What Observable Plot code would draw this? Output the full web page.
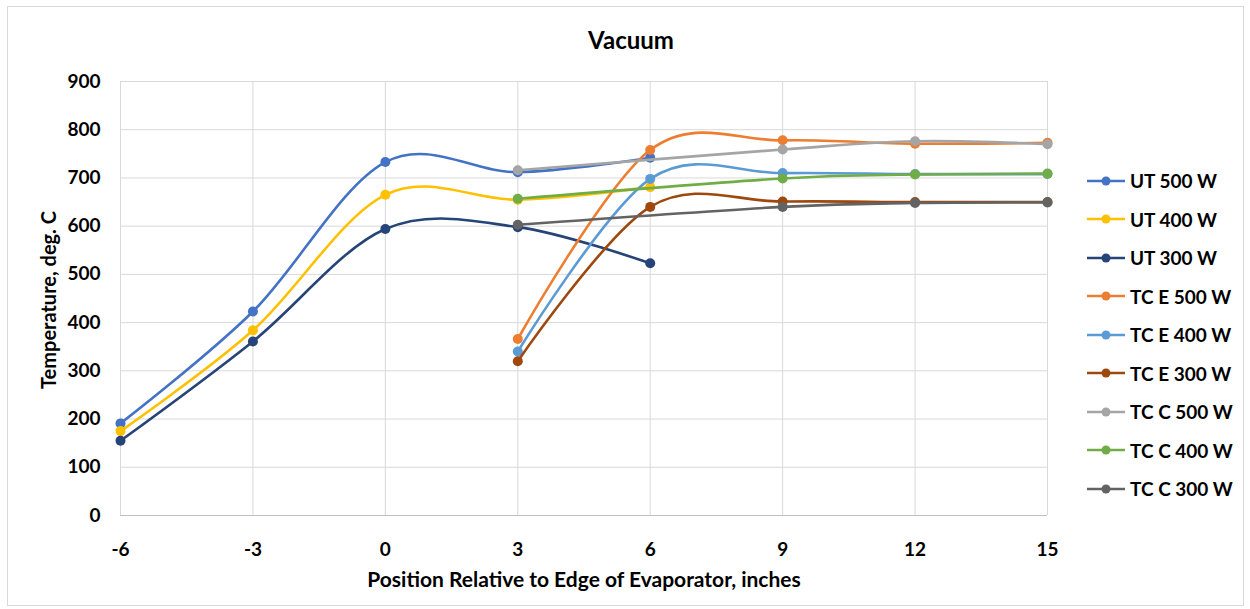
<!DOCTYPE html>
<html>
<head>
<meta charset="utf-8">
<script src="https://cdn.jsdelivr.net/npm/d3@7"></script>
<script src="https://cdn.jsdelivr.net/npm/@observablehq/plot@0.6"></script>
<style>
  body { margin: 0; background: #fff; }
  #chart {
    position: relative; width: 1250px; height: 609px; overflow: hidden;
    font-family: Lato, "Open Sans", sans-serif; font-weight: 700; color: #000;
  }
  #frame { position: absolute; left: 7px; top: 6px; width: 1237px; height: 600px; border: 1px solid #d9d9d9; box-sizing: border-box; }
  #plot { position: absolute; left: 0; top: 0; }
  .lbl { position: absolute; white-space: nowrap; transform: translate(-50%, -50%); line-height: 1; }
  #title { left: 631px; top: 40px; font-size: 24px; }
  #xtitle { left: 584px; top: 578px; font-size: 21px; }
  #ytitle { left: 48px; top: 300px; font-size: 20px; transform: translate(-50%, -50%) rotate(-90deg); }
  .item { position: absolute; left: 1086px; height: 20px; display: flex; align-items: center; font-size: 19px; white-space: nowrap; transform: translateY(-50%); }
  .item svg { margin-right: 4px; }
</style>
</head>
<body>
<div id="chart">
  <div id="frame"></div>
  <div id="plot"></div>
  <div class="lbl" id="title">Vacuum</div>
  <div class="lbl" id="xtitle">Position Relative to Edge of Evaporator, inches</div>
  <div class="lbl" id="ytitle">Temperature, deg. C</div>
  <div id="legend"></div>
</div>
<script>
// Positions (inches from the evaporator edge) for each sensor group
const utX  = [-6, -3, 0, 3, 6];
const tceX = [3, 6, 9, 12, 15];
const tccX = [3, 9, 12, 15];

// Temperatures, deg. C
const ut500  = [191, 423, 733, 712, 742];
const ut400  = [175, 384, 665, 655, 681];
const ut300  = [155, 361, 594, 598, 523];
const tce500 = [366, 758, 778, 771, 773];
const tce400 = [340, 698, 710, 708, 708];
const tce300 = [320, 640, 651, 650, 650];
const tcc500 = [716, 759, 776, 770];
const tcc400 = [657, 699, 707, 709];
const tcc300 = [603, 640, 648, 649];

const seriesNames  = ["UT 500 W", "UT 400 W", "UT 300 W", "TC E 500 W", "TC E 400 W", "TC E 300 W", "TC C 500 W", "TC C 400 W", "TC C 300 W"];
const seriesColors = ["#4472C4", "#FFC000", "#264478", "#ED7D31", "#5B9BD5", "#9E480E", "#A5A5A5", "#70AD47", "#636363"];

const xTicks = [-6, -3, 0, 3, 6, 9, 12, 15];
const yTicks = [0, 100, 200, 300, 400, 500, 600, 700, 800, 900];

const seriesX = [utX, utX, utX, tceX, tceX, tceX, tccX, tccX, tccX];
const seriesY = [ut500, ut400, ut300, tce500, tce400, tce300, tcc500, tcc400, tcc300];

const series = seriesNames.map((name, i) => ({
  name,
  color: seriesColors[i],
  rows: seriesX[i].map((x, j) => ({ x, y: seriesY[i][j] }))
}));

const marks = [
  Plot.gridX(xTicks, { stroke: "#d9d9d9", strokeOpacity: 1, strokeWidth: 1 }),
  Plot.gridY(yTicks.slice(1), { stroke: "#d9d9d9", strokeOpacity: 1, strokeWidth: 1 }),
  Plot.ruleY([0], { stroke: "#bfbfbf", strokeWidth: 1.2 }),
  Plot.axisX(xTicks, { tickSize: 0, tickPadding: 27, label: null, fontSize: 19, fontWeight: 700, tickFormat: d => String(d) }),
  Plot.axisY(yTicks, { tickSize: 0, tickPadding: 20, label: null, fontSize: 19, fontWeight: 700, tickFormat: d => String(d) })
];
for (const s of series) {
  marks.push(Plot.line(s.rows, { x: "x", y: "y", stroke: s.color, strokeWidth: 2.6, curve: "cardinal" }));
  marks.push(Plot.dot(s.rows, { x: "x", y: "y", fill: s.color, r: 5, stroke: "none" }));
}

const chart = Plot.plot({
  width: 1250,
  height: 609,
  marginLeft: 120,
  marginRight: 203,
  marginTop: 81,
  marginBottom: 94,
  x: { domain: [-6, 15] },
  y: { domain: [0, 900] },
  style: { fontFamily: "Lato, 'Open Sans', sans-serif", color: "#000", background: "transparent", overflow: "visible" },
  marks
});
document.getElementById("plot").appendChild(chart);

// Legend: one row per series, line with a marker and the series name
const legend = document.getElementById("legend");
series.forEach((s, i) => {
  const item = document.createElement("div");
  item.className = "item";
  item.style.top = (180.5 + i * 38.5) + "px";
  item.innerHTML =
    `<svg width="40" height="12"><line x1="1" y1="6" x2="39" y2="6" stroke="${s.color}" stroke-width="2.6"/>` +
    `<circle cx="20" cy="6" r="4.5" fill="${s.color}"/></svg><span>${s.name}</span>`;
  legend.appendChild(item);
});
</script>
</body>
</html>
